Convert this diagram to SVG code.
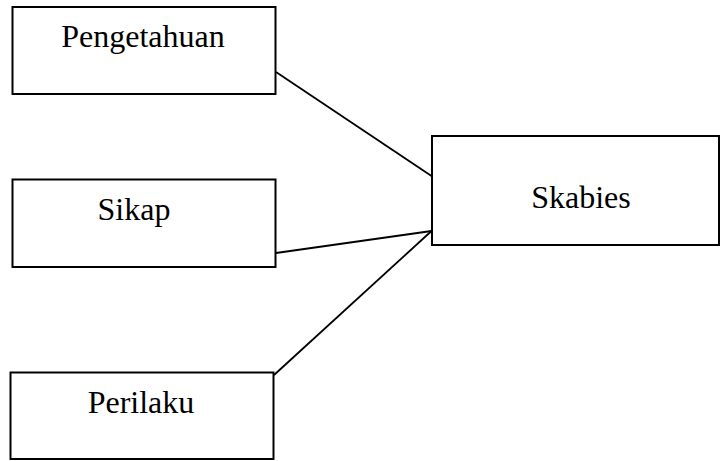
<svg xmlns="http://www.w3.org/2000/svg" width="720" height="461" viewBox="0 0 720 461">
<style>
.box{fill:#fff;stroke:#000;stroke-width:2}
.lbl{font-family:"Liberation Serif","Times New Roman",serif;font-size:32px;fill:#000;text-anchor:middle}
.con{stroke:#000;stroke-width:1.8;fill:none}
</style>
<rect width="720" height="461" fill="#fff"/>
<g id="connectors">
<line class="con" x1="276" y1="72" x2="431.5" y2="176"/>
<line class="con" x1="276" y1="253" x2="431.5" y2="231"/>
<line class="con" x1="274" y1="375" x2="431.5" y2="231"/>
</g>
<g id="pengetahuan">
<rect class="box" x="12.5" y="7" width="263" height="87"/>
<text class="lbl" x="143" y="47">Pengetahuan</text>
</g>
<g id="sikap">
<rect class="box" x="12.5" y="179.5" width="263" height="87.5"/>
<text class="lbl" x="134" y="220">Sikap</text>
</g>
<g id="perilaku">
<rect class="box" x="10.5" y="372.5" width="263" height="86.5"/>
<text class="lbl" x="141" y="413">Perilaku</text>
</g>
<g id="skabies">
<rect class="box" x="432" y="136" width="287" height="109"/>
<text class="lbl" x="581" y="208">Skabies</text>
</g>
</svg>
